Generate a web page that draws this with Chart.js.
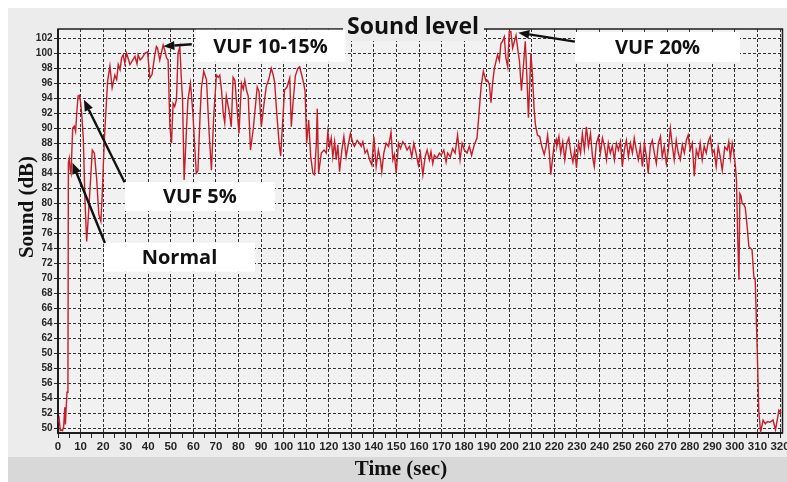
<!DOCTYPE html>
<html>
<head>
<meta charset="utf-8">
<title>Sound level</title>
<script src="https://cdn.jsdelivr.net/npm/chart.js@4.4.1/dist/chart.umd.min.js"></script>
<style>
  html, body { margin: 0; padding: 0; background: #fff; }
</style>
</head>
<body>
<canvas id="sound-chart" width="787" height="482"></canvas>
<script>
// readings taken off the recorder trace (time in seconds, level in dB)
const timeSec = [
  0, 0.5, 1, 1.5, 2, 2.5, 3, 3.3, 3.6, 4, 4.4, 4.6, 5, 5.4, 5.8, 6.5, 7.2, 7.8, 8.4, 8.9,
  9.5, 10, 10.6, 11.2, 12, 12.7, 13.4, 14.2, 15.2, 16.1, 17.1, 18.1, 19, 19.6, 20.2, 20.8,
  22, 23, 24, 25.2, 26, 26.7, 27.5, 28.2, 28.9, 29.6, 30.4, 31.2, 31.9, 32.9, 34.1, 35, 35.5,
  36.4, 37.3, 38.5, 39.7, 40.7, 41.7, 42.9, 43.6, 44.1, 45.1, 46, 46.6, 47.3, 48.1, 48.8,
  49.6, 50.3, 51, 51.7, 52.5, 53.2, 54, 54.6, 55.2, 55.9,
  57, 57.6, 58.7, 59.8, 60.5, 61.3, 62, 63, 63.6, 64.6, 65.8, 67, 68, 69, 70.2, 71, 71.7,
  72.5, 73.2, 73.9, 74.6, 75.8, 76.8, 77.6, 78.4, 79.4, 80.2, 81.3, 82.1, 82.8, 83.6, 84.3,
  85.3, 86.5, 87.6, 88.3, 89.1, 90.1, 91.2, 92.3, 93.4, 94.5, 95.3, 96, 97, 98, 98.7, 99.6,
  100.4, 101.5, 102.7, 103.4, 104.2, 105.2, 106.3, 107.1, 108.6, 109.5,
  110.2, 111.1, 112, 113,
  113.7, 114.5, 114.9, 115.5, 116.7, 117.9, 118.9, 119.6, 120.4, 121.1, 121.8, 122.6, 123.3,
  124, 124.8, 125.8, 126.7, 127.7, 128.5, 129.6, 130.7, 131.4, 132.6, 133.6, 134.4, 135.1,
  136.1, 137, 138.1, 139.1, 140, 141, 142, 142.9, 143.5, 144.4, 145.4, 146.5, 147.6, 148.4,
  149.1, 149.9, 150.9, 151.8, 152.8, 153.8, 154.7, 155.8, 156.8, 157.7, 158.7, 159.7, 160.6,
  161.7, 162.7, 163.6, 164.6, 165.3, 166.1, 166.8, 168, 169, 169.8, 171, 172, 172.7, 173.9,
  174.9, 176, 177.1, 178.2, 179.1, 180.1, 181.3, 182.3, 183.3, 184.5, 185.7, 186.7,
  187.5, 188.5, 189.7, 190.4, 191.2, 191.9, 192.6, 193.4, 194.8, 195.6, 196.3, 197, 197.8,
  198.5, 199.3, 200, 200.7, 201.5, 202.2, 203, 203.8, 204.5, 205.4, 206.2, 207.1, 207.8,
  208.5, 209.6, 210.3, 211, 211.6, 212.5, 213.5, 214.5, 215.5, 216.3, 217, 217.7, 218.4,
  219.2, 219.9, 220.8,
  221.1, 222, 222.8, 223.7, 224.6, 225.5, 226.4, 227.3, 228.2, 229, 229.8, 230.7, 231.6,
  232.4, 233.3, 234.2, 235.1, 236, 236.9, 237.7, 238.6, 239.5, 240.4, 241.3, 242.2, 243.1,
  243.9, 244.8, 245.7, 246.6, 247.5, 248.4, 249.3, 250.1, 251, 251.9, 252.8, 253.7, 254.6,
  255.4, 256.3, 257.2, 258.1, 259, 259.9, 260.8, 261.6, 262.5, 263.4, 264.3, 265.2, 266.1,
  267, 267.8, 268.7, 269.6, 270.5, 271.4, 272.3, 273.1, 274, 274.9, 275.8, 276.7, 277.6,
  278.5, 279.3, 280.2, 281.1, 282, 282.9, 283.8, 284.6, 285.5, 286.4, 287.3, 288.2, 289.1,
  290, 290.8, 291.7, 292.6, 293.5, 294.4,
  295.5, 296.6, 297.3, 298, 298.8, 299.5, 300.2, 300.7, 301.2, 301.8, 302.2, 302.7, 303.2,
  304, 304.6, 305.4, 306.2, 307.6, 308.4, 309, 309.9, 310.6, 311.4, 312.5, 313.5, 314.5,
  315.5, 316.9, 318, 319.5, 320.5
];
const soundDb = [
  50.8, 51.3, 49.7, 49.8, 49.7, 50.2, 52.8, 50.5, 52.6, 54.8, 55.5, 85.4, 86, 84.5, 84, 90, 90.3, 89.6, 92.4, 94.3,
  94.4, 93.5, 91.5, 88.7, 80, 74.9, 78, 82, 87.1, 86.7, 83.4, 78.5, 77.6, 81.1, 86, 90,
  96.3, 98.3, 95.4, 97.1, 96.5, 98.5, 97.8, 99.4, 99.8, 98.7, 100, 99.2, 98.5, 99, 99.6, 98.6, 99.8,
  99.1, 99.4, 100, 100.2, 96.7, 97.2, 99.8, 100.9, 100.7, 99.1, 100.3, 101.1, 100.4, 99.4, 99.1,
  90.2, 88, 93.3, 92.9, 93.8, 100, 100.9, 97, 93.8, 83.1,
  90.2, 93.8, 96, 92, 88, 84, 84.3, 92, 95.5, 97.6, 96.5, 89.3, 84.4, 91.5, 97.1, 96.8, 97.1,
  95, 92.1, 90.7, 94.3, 92.4, 90.2, 96.8, 96.4, 92.4, 89.3, 96, 95.2, 96.4, 95, 94.3,
  87.1, 89.8, 93.3, 95.5, 94.9, 90.2, 93, 95.6, 96.5, 98, 97.2, 96.2, 91.8, 88, 86.3, 91,
  95.1, 95.5, 96.7, 90.2, 93.5, 97, 98, 98.2, 96.4, 95,
  88, 91.1, 86.2, 84,
  83.8, 88, 92.6, 84, 86.7, 87.1, 86.7, 89.5, 87.6, 88.7, 86.2, 88.2, 85.8,
  87.8, 84.2, 87.1, 88.9, 86.2, 87.6, 89.3, 88, 87.6, 88.4, 88, 87.6, 88.2,
  86.7, 87.1, 85.8, 85.1, 88.9, 84.9, 87.1, 85.8, 84.2, 86.7, 88, 87.6, 89.5, 85.8,
  86.5, 84, 88, 87.3, 88.2, 87.8, 87.1, 87.6, 86.2, 88, 86.7, 85.1, 86.7,
  83.8, 86.2, 87.1, 85.8, 86.9, 85.3, 86.4, 86, 86.7, 86.4, 87.1, 85.5, 86.7,
  86.2, 87.3, 86.7, 89.1, 85.8, 88, 87.1, 86.7, 87.6, 86.4, 87.8, 88.7, 92.4,
  95.5, 97.6, 96.3, 96.4, 95.8, 93.4, 96, 98, 99.8, 99, 101.3, 101.6, 102.2,
  99.4, 98.2, 102.9, 102.9, 100.7, 101.5, 102.4, 100.5, 99, 95, 98, 101.6, 97,
  91.4, 100, 97, 92.6, 90.5, 89.1, 88.9, 87.5, 86.5, 87.6, 89.1, 87, 83.8,
  86, 87.8, 88.5,
  87.6, 88.9, 86.7, 88.2, 85.8, 88, 88.7, 86.7, 85.5, 87.1, 84.7, 88, 86.7,
  89.3, 87.1, 90.2, 87.6, 89.3, 86.2, 84.9, 88, 88.9, 86.7, 88.7, 87.6, 85.8,
  88, 86.7, 87.6, 85.8, 88, 87.1, 88.2, 84.9, 87.1, 88.4, 86.2, 88, 86.7,
  88.7, 87.1, 85.8, 87.6, 84.9, 88, 86.2, 84, 87.6, 88.4, 86.7, 85.3, 88,
  88.9, 86.2, 87.6, 85.3, 87.1, 90, 87.6, 85.8, 88.4, 86.7, 85.8, 87.8, 86.7,
  88.4, 89.1, 87.1, 88, 83.6, 87.1, 86.2, 88, 85.8, 87.6, 86.7, 88.2, 88.9,
  86.7, 87.1, 84.9, 87.6, 86.2, 84.4,
  87.5, 87.1, 88.2, 86, 88, 86.8, 85, 83.1, 76, 69.8, 81.3, 81, 80,
  79.8, 79.4, 77, 74.2, 73.8, 70.2, 69.8, 60.4, 52.2, 49.5, 51.1, 50.6, 50.9,
  50.8, 51.1, 49.8, 52.4, 52
];

const xTickLabels = ['0', '10', '20', '30', '40', '50', '60', '70', '80', '90', '100', '110',
  '120', '130', '140', '150', '160', '170', '180', '190', '200', '210', '220', '230', '240',
  '250', '260', '270', '280', '290', '300', '310', '320'];
const yTickValues = [50, 52, 54, 56, 58, 60, 62, 64, 66, 68, 70, 72, 74, 76, 78, 80, 82, 84,
  86, 88, 90, 92, 94, 96, 98, 100, 102];
// the original figure prints "50" at the 60 dB line, kept as is
const yTickLabels = ['50', '52', '54', '56', '58', '50', '62', '64', '66', '68', '70', '72',
  '74', '76', '78', '80', '82', '84', '86', '88', '90', '92', '94', '96', '98', '100', '102'];

const chartTitle = 'Sound level';
const xTitle = 'Time (sec)';
const yTitle = 'Sound (dB)';

// callout boxes and arrows, anchored in data units (time, dB)
const noteLabels = ['VUF 10-15%', 'VUF 20%', 'VUF 5%', 'Normal'];
const noteBoxAt = [[94.2, 101.0], [265.7, 100.85], [62.9, 80.9], [53.85, 72.8]];
const noteBoxSize = [[150, 32], [165, 30], [150, 29], [151, 29]];
const noteArrowFrom = [[59.3, 101.2], [229.1, 101.55], [29.5, 82.8], [20.8, 74.7]];
const noteArrowTo = [[46.7, 100.95], [204, 102.75], [11.5, 93.8], [6.4, 85.4]];

const panelColor = '#ececec';
const plotColor = '#f1f1f1';
const tickFont = '"Liberation Sans", Arial, sans-serif';
const noteFont = '"Open Sans", "Liberation Sans", sans-serif';
const serifFont = '"Liberation Serif", "Times New Roman", serif';

const points = [];
for (let i = 0; i < Math.min(timeSec.length, soundDb.length); i++) {
  points.push({ x: timeSec[i], y: soundDb[i] });
}

function drawArrow(ctx, x1, y1, x2, y2) {
  const ang = Math.atan2(y2 - y1, x2 - x1);
  const len = 11, half = 4.5;
  const bx = x2 - Math.cos(ang) * len, by = y2 - Math.sin(ang) * len;
  ctx.strokeStyle = '#111';
  ctx.lineWidth = 2.4;
  ctx.beginPath();
  ctx.moveTo(x1, y1);
  ctx.lineTo(bx, by);
  ctx.stroke();
  ctx.fillStyle = '#111';
  ctx.beginPath();
  ctx.moveTo(x2, y2);
  ctx.lineTo(bx + Math.sin(ang) * half, by - Math.cos(ang) * half);
  ctx.lineTo(bx - Math.sin(ang) * half, by + Math.cos(ang) * half);
  ctx.closePath();
  ctx.fill();
}

// backgrounds, frame, titles and callouts
const decorPlugin = {
  id: 'decor',
  beforeDraw(chart) {
    const { ctx, chartArea: a } = chart;
    ctx.save();
    ctx.fillStyle = '#ffffff';
    ctx.fillRect(0, 0, chart.width, chart.height);
    ctx.fillStyle = panelColor;
    ctx.fillRect(8, 8, chart.width - 8, 449);
    ctx.fillStyle = '#d8d8d8';
    ctx.fillRect(8, 457, chart.width - 8, chart.height - 457);
    ctx.fillStyle = plotColor;
    ctx.fillRect(a.left, a.top, a.right - a.left, a.bottom - a.top);
    ctx.restore();
  },
  beforeDatasetsDraw(chart) {
    const { ctx, chartArea: a } = chart;
    ctx.save();
    ctx.strokeStyle = '#1c1c1c';
    ctx.lineWidth = 1.5;
    ctx.strokeRect(a.left, a.top, a.right - a.left, a.bottom - a.top);
    ctx.lineWidth = 2;
    ctx.beginPath();
    ctx.moveTo(a.left, a.top);
    ctx.lineTo(a.left, a.bottom);
    ctx.lineTo(a.right, a.bottom);
    ctx.stroke();

    // title sits on the top border
    ctx.fillStyle = panelColor;
    ctx.fillRect(343, 12, 141, 29);
    ctx.fillStyle = '#111';
    ctx.font = 'bold 23px ' + noteFont;
    ctx.textAlign = 'center';
    ctx.textBaseline = 'middle';
    ctx.fillText(chartTitle, 413, 27);

    // axis titles
    ctx.font = 'bold 21px ' + serifFont;
    ctx.fillText(xTitle, 401, 470);
    ctx.translate(28, 207);
    ctx.rotate(-Math.PI / 2);
    ctx.fillText(yTitle, 0, 0);
    ctx.restore();
  },
  afterDatasetsDraw(chart) {
    const { ctx } = chart;
    const xs = chart.scales.x, ys = chart.scales.y;
    ctx.save();
    for (let i = 0; i < noteLabels.length; i++) {
      const cx = xs.getPixelForValue(noteBoxAt[i][0]);
      const cy = ys.getPixelForValue(noteBoxAt[i][1]);
      const w = noteBoxSize[i][0], h = noteBoxSize[i][1];
      ctx.fillStyle = '#ffffff';
      ctx.fillRect(cx - w / 2, cy - h / 2, w, h);
      ctx.fillStyle = '#111';
      ctx.font = 'bold 20px ' + noteFont;
      ctx.textAlign = 'center';
      ctx.textBaseline = 'middle';
      ctx.fillText(noteLabels[i], cx, cy + 1);
      drawArrow(ctx,
        xs.getPixelForValue(noteArrowFrom[i][0]), ys.getPixelForValue(noteArrowFrom[i][1]),
        xs.getPixelForValue(noteArrowTo[i][0]), ys.getPixelForValue(noteArrowTo[i][1]));
    }
    ctx.restore();
  }
};

const ctx = document.getElementById('sound-chart').getContext('2d');
const soundChart = new Chart(ctx, {
  type: 'line',
  data: {
    datasets: [{
      label: 'Sound level',
      data: points,
      borderColor: '#c41f2a',
      borderWidth: 1.4,
      pointRadius: 0,
      tension: 0,
      fill: false
    }]
  },
  options: {
    responsive: false,
    animation: false,
    devicePixelRatio: 1,
    layout: { padding: { top: 29, right: 4.5, left: 0, bottom: 0 } },
    plugins: {
      legend: { display: false },
      tooltip: { enabled: false }
    },
    scales: {
      x: {
        type: 'linear',
        min: 0,
        max: 321.1,
        afterBuildTicks(scale) {
          const ticks = [];
          xTickLabels.forEach(function (lab, i) {
            const v = parseFloat(lab);
            ticks.push({ value: v, major: true });
            if (i < xTickLabels.length - 1) {
              ticks.push({ value: (v + parseFloat(xTickLabels[i + 1])) / 2, major: false });
            }
          });
          scale.ticks = ticks;
        },
        afterFit(scale) {
          scale.height = 49;
          scale.paddingLeft = 0;
          scale.paddingRight = 0;
        },
        ticks: {
          autoSkip: false,
          maxRotation: 0,
          padding: 2,
          color: '#262626',
          font: { family: tickFont, size: 11.5, weight: 'bold' },
          callback: function (value) {
            const idx = xTickLabels.indexOf(String(value));
            return idx >= 0 ? xTickLabels[idx] : '';
          }
        },
        grid: {
          color: function (c) {
            return c.tick && c.tick.major ? '#333333' : 'rgba(0,0,0,0)';
          },
          lineWidth: 1,
          tickLength: 5,
          tickColor: '#222',
          tickBorderDash: []
        },
        border: { display: false, dash: [3, 2] }
      },
      y: {
        min: 49.37,
        max: 103.24,
        afterBuildTicks(scale) {
          scale.ticks = yTickValues.map(function (v) { return { value: v }; });
        },
        afterFit(scale) {
          scale.width = 58;
          scale.paddingTop = 0;
          scale.paddingBottom = 0;
        },
        ticks: {
          autoSkip: false,
          padding: 1.5,
          color: '#262626',
          font: { family: tickFont, size: 10, weight: 'bold' },
          callback: function (value) {
            const idx = yTickValues.indexOf(value);
            return idx >= 0 ? yTickLabels[idx] : '';
          }
        },
        grid: {
          color: '#333333',
          lineWidth: 1,
          tickLength: 4,
          tickColor: '#222',
          tickBorderDash: []
        },
        border: { display: false, dash: [3, 2] }
      }
    }
  },
  plugins: [decorPlugin]
});
</script>
</body>
</html>
